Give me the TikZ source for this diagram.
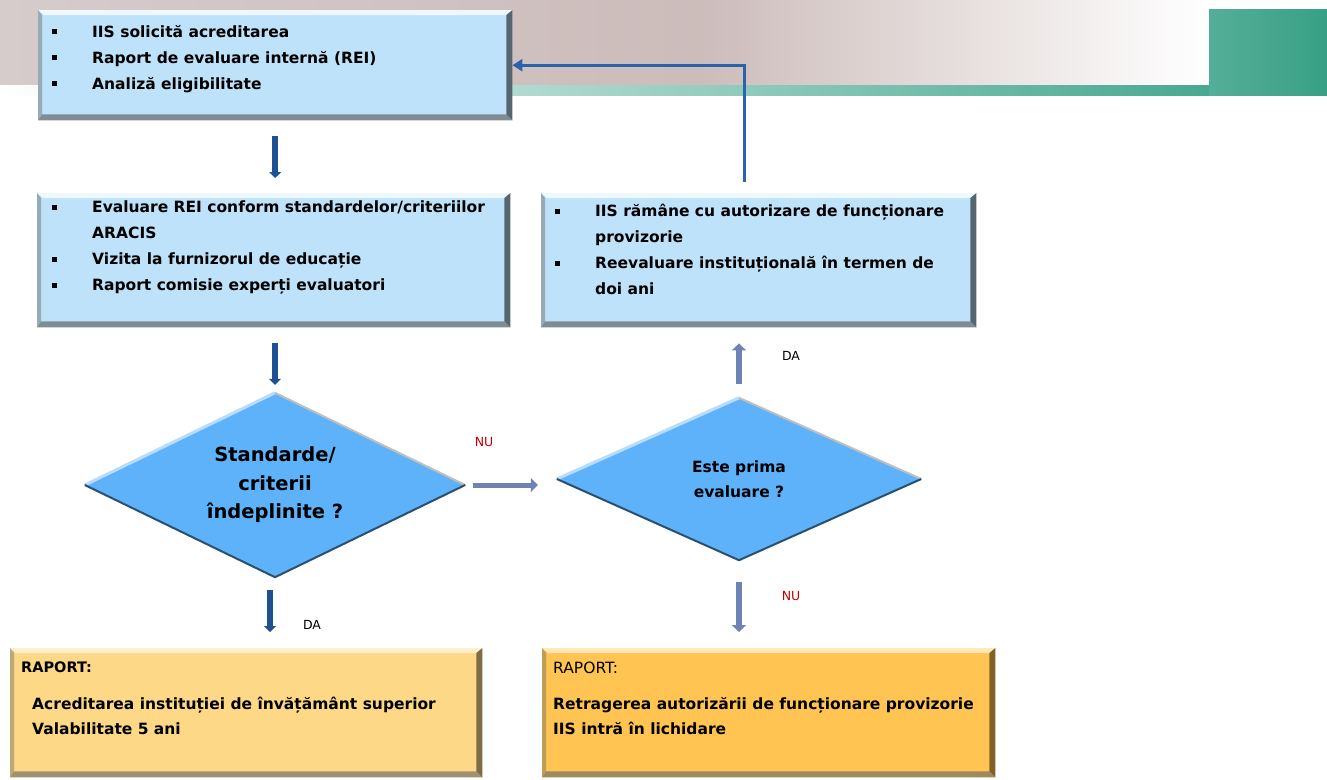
\documentclass[tikz,border=0pt]{standalone}
\usepackage{fontspec}
\setmainfont{DejaVu Sans}
\usetikzlibrary{shapes.geometric,arrows.meta,positioning}

\definecolor{boxblue}{RGB}{190,226,250}
\definecolor{diablue}{RGB}{94,178,250}
\definecolor{darkarrow}{RGB}{31,80,145}
\definecolor{greyarrow}{RGB}{110,130,180}
\definecolor{loopblue}{RGB}{42,98,171}
\definecolor{lightorange}{RGB}{253,216,135}
\definecolor{midorange}{RGB}{255,196,82}
\definecolor{bandlight}{RGB}{214,204,203}
\definecolor{bandbrown}{RGB}{204,188,186}
\definecolor{bandgreen}{RGB}{55,160,133}
\definecolor{nured}{RGB}{192,0,0}

\newcommand{\bul}{\makebox[40pt][l]{\rule[3pt]{5pt}{5pt}}}
\newcommand{\nobul}{\hspace*{40pt}}
\newcommand{\bevel}[3]{%
 \fill[#2] (#1.north west) -- (#1.north east) -- ([shift={(-6,5)}]#1.north east) -- ([shift={(6,5)}]#1.north west) -- cycle;
 \fill[#2!50!#3] (#1.north west) -- (#1.south west) -- ([shift={(4,-6)}]#1.south west) -- ([shift={(4,5)}]#1.north west) -- cycle;
 \fill[#3!75] (#1.south west) -- (#1.south east) -- ([shift={(-6,-6)}]#1.south east) -- ([shift={(4,-6)}]#1.south west) -- cycle;
 \fill[#3] (#1.north east) -- (#1.south east) -- ([shift={(-6,-6)}]#1.south east) -- ([shift={(-6,5)}]#1.north east) -- cycle;}

\tikzset{
 box/.style={draw=none, rectangle, anchor=north west, inner sep=0pt},
 txt/.style={anchor=north west, inner sep=0pt, align=left, font=\bfseries\fontsize{15.5}{26}\selectfont},
 dia/.style={diamond, fill=diablue, inner sep=0pt, aspect=2, align=center},
 arrD/.style={darkarrow, line width=6pt, -{Triangle[length=6pt,width=12pt]}},
 arrG/.style={greyarrow, line width=6pt, -{Triangle[length=7pt,width=14pt]}},
 lbl/.style={inner sep=0pt, font=\fontsize{12.5}{15}\selectfont}
}

\begin{document}
\begin{tikzpicture}[x=1pt,y=-1pt]
\useasboundingbox (0,0) rectangle (1327,779);
\shade[left color=bandlight, right color=bandbrown] (0,0) rectangle (700,85);
\shade[left color=bandbrown, right color=white] (700,0) rectangle (1209,85);
\shade[left color=white, right color=bandgreen] (0,85) rectangle (1327,95);
\shade[left color=bandgreen!85!white, right color=bandgreen] (1209,9) rectangle (1327,95);

\node[box, fill=boxblue, minimum width=474pt, minimum height=110pt] (b1) at (38,10) {};
\node[box, fill=boxblue, minimum width=473pt, minimum height=134pt] (b2) at (37,193) {};
\node[box, fill=boxblue, minimum width=435pt, minimum height=134pt] (b3) at (541,193) {};
\node[box, fill=lightorange, minimum width=472pt, minimum height=129pt] (bA) at (10,648) {};
\node[box, fill=midorange, minimum width=453pt, minimum height=129pt] (bB) at (542,648) {};
\bevel{b1}{white!75!boxblue}{black!55!boxblue}
\bevel{b2}{white!75!boxblue}{black!55!boxblue}
\bevel{b3}{white!75!boxblue}{black!55!boxblue}
\bevel{bA}{white!60!lightorange}{black!50!lightorange}
\bevel{bB}{white!60!midorange}{black!50!midorange}

\node[txt] (t1) at ([shift={(14,15)}]b1.north west) {\bul IIS solicită acreditarea\\\bul Raport de evaluare internă (REI)\\\bul Analiză eligibilitate};
\node[txt] (t2) at ([shift={(15,8)}]b2.north west) {\bul Evaluare REI conform standardelor/criteriilor\\\nobul ARACIS\\\bul Vizita la furnizorul de educație\\\bul Raport comisie experți evaluatori};
\node[txt] (t3) at ([shift={(14,11)}]b3.north west) {\bul IIS rămâne cu autorizare de funcționare\\\nobul provizorie\\\bul Reevaluare instituțională în termen de\\\nobul doi ani};
\node[txt, font=\bfseries\fontsize{14.5}{26}\selectfont] (rA) at ([shift={(11,14)}]bA.north west) {RAPORT:};
\node[txt, font=\bfseries\fontsize{15.5}{25}\selectfont] (tA) at ([shift={(22,49)}]bA.north west) {Acreditarea instituției de învățământ superior\\Valabilitate 5 ani};
\node[txt, font=\fontsize{15.5}{26}\selectfont] (rB) at ([shift={(11,14)}]bB.north west) {RAPORT:};
\node[txt, font=\bfseries\fontsize{15.5}{25}\selectfont] (tB) at ([shift={(11,49)}]bB.north west) {Retragerea autorizării de funcționare provizorie\\IIS intră în lichidare};

\node[dia, minimum width=380pt, minimum height=184pt, font=\bfseries\fontsize{19.5}{28.5}\selectfont] (d1) at (275,485) {Standarde/\\criterii\\îndeplinite ?};
\node[dia, minimum width=364pt, minimum height=162pt, font=\bfseries\fontsize{15.5}{25}\selectfont] (d2) at (739,479) {Este prima\\evaluare ?};
\foreach \d in {d1,d2}{
 \draw[white!55!diablue, line width=3pt] (\d.west) -- (\d.north);
 \draw[black!25, line width=2pt] (\d.north) -- (\d.east);
 \draw[black!55!diablue, line width=2pt] (\d.east) -- (\d.south) -- (\d.west);
}

\draw[arrD, shorten <=16pt, shorten >=15pt] (b1.south) -- (b1.south |- b2.north);
\draw[arrD, shorten <=16pt, shorten >=8pt] (d1.north |- b2.south) -- (d1.north);
\draw[arrD, shorten <=13pt, shorten >=16pt] ([xshift=-5pt]d1.south) -- ([xshift=-5pt]d1.south |- bA.north);
\draw[arrG, line width=5pt, shorten <=8pt, shorten >=19pt] (d1.east) -- (d1.east -| d2.west);
\draw[arrG, shorten <=14pt, shorten >=16pt] (d2.north) -- (d2.north |- b3.south);
\draw[arrG, shorten <=22pt, shorten >=16pt] (d2.south) -- (d2.south |- bB.north);
\draw[loopblue, line width=3pt, -{Triangle[length=10pt,width=12pt]}, shorten <=11pt] ([xshift=-14pt]b3.north) |- (b1.east);

\node[lbl] (da1) at (312,625) {DA};
\node[lbl, text=nured] (nu1) at (484,442) {NU};
\node[lbl] (da2) at (791,356) {DA};
\node[lbl, text=nured] (nu2) at (791,596) {NU};
\end{tikzpicture}
\end{document}
